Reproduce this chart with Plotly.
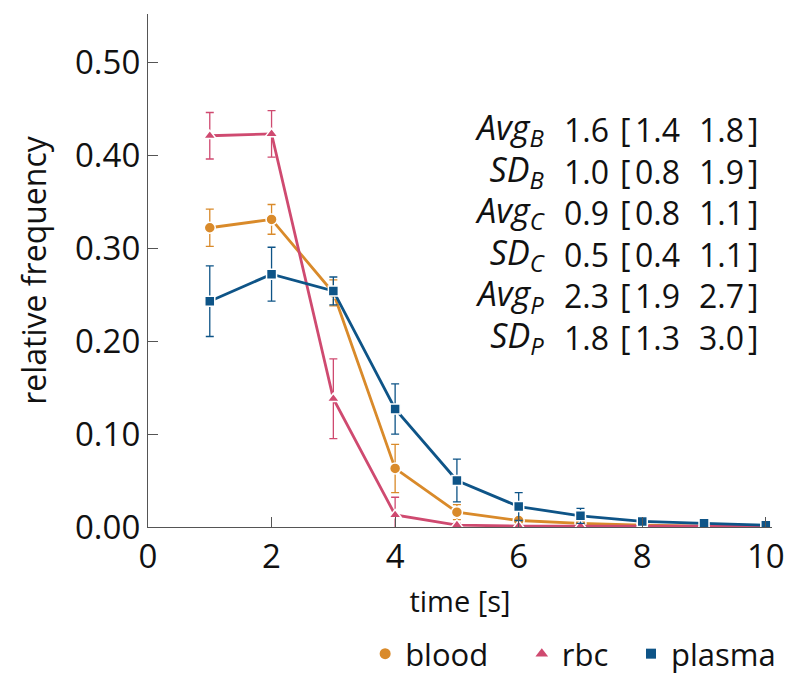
import plotly.graph_objects as go

time_s = [1, 2, 3, 4, 5, 6, 7, 8, 9, 10]

blood = [0.322, 0.331, 0.252, 0.063, 0.016, 0.007, 0.004, 0.002, 0.001, 0.001]
blood_err = [0.020, 0.016, 0.014, 0.026, 0.008, 0.004, 0.002, 0.001, 0.001, 0.001]

rbc = [0.421, 0.423, 0.138, 0.013, 0.002, 0.001, 0.001, 0.001, 0.001, 0.001]
rbc_err = [0.025, 0.025, 0.043, 0.019, 0.002, 0.001, 0.001, 0.001, 0.001, 0.001]

plasma = [0.243, 0.272, 0.254, 0.127, 0.050, 0.022, 0.012, 0.006, 0.004, 0.002]
plasma_err = [0.038, 0.029, 0.015, 0.027, 0.023, 0.015, 0.008, 0.005, 0.003, 0.002]

series_names = ["blood", "rbc", "plasma"]

stat_labels = ["<i>Avg</i><sub><i>B</i></sub>", "<i>SD</i><sub><i>B</i></sub>",
               "<i>Avg</i><sub><i>C</i></sub>", "<i>SD</i><sub><i>C</i></sub>",
               "<i>Avg</i><sub><i>P</i></sub>", "<i>SD</i><sub><i>P</i></sub>"]
stat_values = ["1.6", "1.0", "0.9", "0.5", "2.3", "1.8"]
stat_lo = ["1.4", "0.8", "0.8", "0.4", "1.9", "1.3"]
stat_hi = ["1.8", "1.9", "1.1", "1.1", "2.7", "3.0"]

C_BLOOD = "#D98A2A"
C_RBC = "#CF4A70"
C_PLASMA = "#0E5487"

FONT = "Open Sans"
TXT = "#111111"

fig = go.Figure()

specs = [
    (blood, blood_err, C_BLOOD, "circle", 11),
    (rbc, rbc_err, C_RBC, "triangle-up", 11),
    (plasma, plasma_err, C_PLASMA, "square", 10),
]
for name, (vals, errs, col, sym, sz) in zip(series_names, specs):
    fig.add_trace(go.Scatter(
        x=time_s, y=vals, mode="lines+markers", showlegend=False,
        line=dict(color=col, width=2.8),
        marker=dict(symbol=sym, size=sz, color=col, line=dict(color="white", width=1.5)),
        error_y=dict(type="data", array=errs, visible=True, color=col, thickness=1.3, width=4),
    ))

legend_x = [0.348, 0.599, 0.774]
legend_ids = ["legend", "legend2", "legend3"]
for name, (vals, errs, col, sym, sz), lid in zip(series_names, specs, legend_ids):
    fig.add_trace(go.Scatter(
        x=[None], y=[None], mode="markers", name=name, legend=lid,
        marker=dict(symbol=sym, size=sz, color=col),
    ))

# statistics block: one multi-line annotation per column
def dx(px):
    return (px - 148) / 61.8

block_y = (527 - 233) / 930.0
columns = [
    (547, "right", "<br>".join("<span style='font-size:34px'>%s</span>" % s for s in stat_labels)),
    (563, "left", "<br>".join(stat_values)),
    (619, "left", "<br>".join("[" for _ in stat_values)),
    (634, "left", "<br>".join(stat_lo)),
    (698, "left", "<br>".join(stat_hi)),
    (747, "left", "<br>".join("]" for _ in stat_values)),
]
for px, anchor, text in columns:
    fig.add_annotation(x=dx(px), y=block_y, xref="x", yref="y", text=text,
                       showarrow=False, xanchor=anchor, yanchor="middle", align=anchor,
                       borderpad=0,
                       font=dict(size=32, color=TXT, family=FONT))

legend_common = dict(orientation="h", y=-0.2476, yanchor="middle", xanchor="left",
                     font=dict(size=31, color=TXT, family=FONT), itemwidth=30,
                     bgcolor="rgba(0,0,0,0)", borderwidth=0)

# the page body adds an 8px offset; the figure is sized so the plot lands where the reference has it
fig.update_layout(
    width=792, height=681,
    margin=dict(l=140, r=28, t=6, b=162, autoexpand=False),
    paper_bgcolor="white", plot_bgcolor="white",
    font=dict(family=FONT, color=TXT),
    xaxis=dict(range=[0, 10.1], tickvals=[0, 2, 4, 6, 8, 10], ticks="inside", ticklen=10,
               tickcolor="#555", showline=True, linecolor="#555", linewidth=1.3,
               showgrid=False, zeroline=False, tickfont=dict(size=33), automargin=False,
               title=dict(text="time [s]", font=dict(size=29), standoff=14)),
    yaxis=dict(range=[0, 0.552], tickvals=[0, 0.1, 0.2, 0.3, 0.4, 0.5], tickformat=".2f",
               ticks="inside", ticklen=10, tickcolor="#555", showline=True, linecolor="#555",
               linewidth=1.3, showgrid=False, zeroline=False, tickfont=dict(size=33),
               automargin=False,
               title=dict(text="relative frequency", font=dict(size=32), standoff=18)),
    legend=dict(x=legend_x[0], **legend_common),
    legend2=dict(x=legend_x[1], **legend_common),
    legend3=dict(x=legend_x[2], **legend_common),
)

fig.write_html("out.html")
